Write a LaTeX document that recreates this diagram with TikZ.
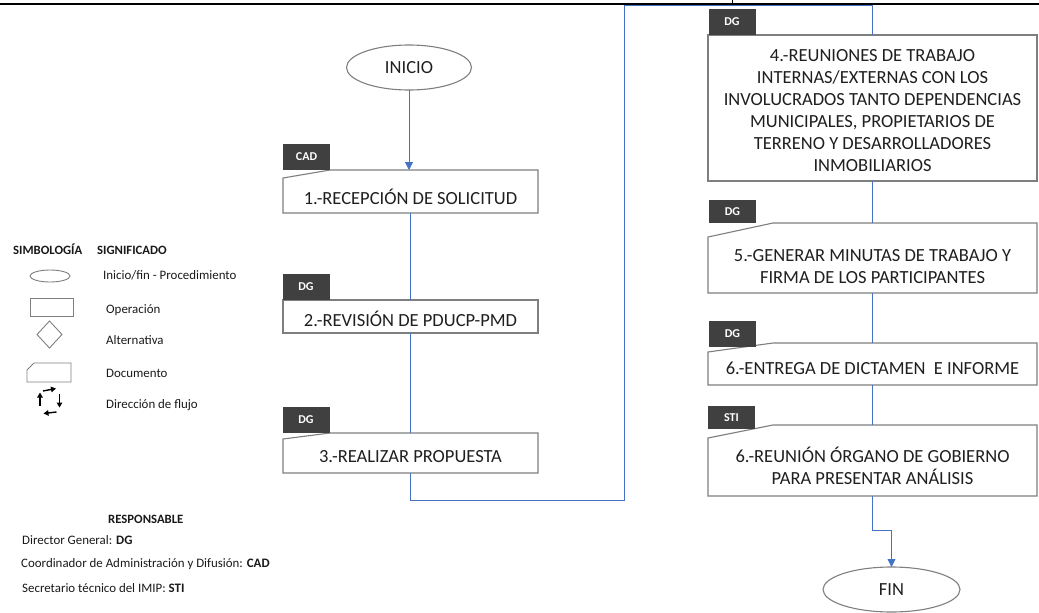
\documentclass[tikz,border=0pt]{standalone}
\usepackage{fontspec}
\setmainfont{Carlito}
\usetikzlibrary{shapes.geometric,arrows.meta}
\definecolor{flowblue}{HTML}{4472C4}
\definecolor{edgegray}{HTML}{7F7F7F}
\definecolor{tagdark}{HTML}{404040}
% outline of a "document" box: node name, drop and run of the cut top-left corner
\newcommand{\docoutline}[3]{%
  \draw[boxline] ([yshift=-#2]#1.north west) -- ([xshift=#3]#1.north west)
    -- (#1.north east) -- (#1.south east) -- (#1.south west) -- cycle;}
\begin{document}
\begin{tikzpicture}[x=1pt,y=-1pt,
  boxarea/.style={draw=none, inner sep=0pt, outer sep=0pt},
  boxline/.style={draw=edgegray, line width=1.1pt, fill=white},
  boxtext/.style={align=center, font=\fontsize{18.5}{22}\selectfont, text=black!88, inner sep=0pt},
  tagbox/.style={fill=tagdark, draw=none, text=white, font=\fontsize{12}{14}\selectfont\bfseries,
    inner sep=0pt, outer sep=0pt, minimum width=47},
  terminal/.style={ellipse, draw=edgegray, line width=1.1pt, fill=white, text=black!88,
    font=\fontsize{18.5}{22}\selectfont, inner sep=0pt, outer sep=0pt},
  flow/.style={draw=flowblue, line width=0.8pt},
  flowarrow/.style={flow, -{Triangle[width=8pt,length=8pt]}},
  legendtext/.style={anchor=base west, inner sep=0pt, text=black!90, font=\fontsize{12.9}{15}\selectfont},
  legendhead/.style={legendtext, font=\fontsize{12.7}{15}\selectfont\bfseries},
  legendshape/.style={draw=edgegray, line width=0.9pt, inner sep=0pt, outer sep=0pt},
  flowtip/.style={line width=1.4pt, -{Triangle[width=5.5pt,length=5pt]}},
]
\useasboundingbox (0,0) rectangle (1039,613);

% page header rule
\draw[line width=2pt] (0,3.6) -- (1039,3.6);
\draw[line width=0.9pt] (732,0) -- (732,3);

% process boxes
\node[boxarea, minimum width=255, minimum height=43] (b1) at (410.5,191.5) {};
\node[boxarea, minimum width=255, minimum height=33] (b2) at (410.5,316.5) {};
\node[boxarea, minimum width=255, minimum height=40] (b3) at (410.5,453) {};
\node[boxarea, minimum width=329, minimum height=146] (b4) at (872.5,108) {};
\node[boxarea, minimum width=329, minimum height=70] (b5) at (872.5,258) {};
\node[boxarea, minimum width=329, minimum height=42] (b6) at (872.5,364) {};
\node[boxarea, minimum width=329, minimum height=71] (b7) at (872.5,460.5) {};

\docoutline{b1}{8}{47}
\draw[boxline] (b2.north west) rectangle (b2.south east);
\docoutline{b3}{6}{47}
\draw[boxline] (b4.north west) rectangle (b4.south east);
\docoutline{b5}{14}{65}
\docoutline{b6}{9}{65}
\docoutline{b7}{13}{65}

% start and end
\node[terminal, minimum width=125, minimum height=45] (ini) at (409,67.5) {INICIO};
\node[terminal, minimum width=137, minimum height=45] (fin) at (891.5,589.5) {FIN};

% connectors
\coordinate (loopL) at (624,500);
\coordinate (loopT) at (624,5.5);
\coordinate (jog) at (872.5,530);
\draw[flowarrow] (ini.south) -- (ini.south |- b1.north);
\draw[flow] (b1.south) -- (b2.north);
\draw[flow] (b2.south) -- (b3.north);
\draw[flow] (b3.south) |- (loopL) -- (loopT) -| (b4.north);
\draw[flow] (b4.south) -- (b5.north);
\draw[flow] (b5.south) -- (b6.north);
\draw[flow] (b6.south) -- (b7.north);
\draw[flowarrow] (b7.south) -- (jog) -| (fin.north);

% box texts
\node[boxtext] (b1t) at ([yshift=-5]b1.center) {1.-RECEPCIÓN DE SOLICITUD};
\node[boxtext] (b2t) at ([yshift=-2.5]b2.center) {2.-REVISIÓN DE PDUCP-PMD};
\node[boxtext] (b3t) at ([yshift=-4]b3.center) {3.-REALIZAR PROPUESTA};
\node[boxtext] (b4t) at ([yshift=-2.5]b4.center) {4.-REUNIONES DE TRABAJO\\INTERNAS/EXTERNAS CON LOS\\INVOLUCRADOS TANTO DEPENDENCIAS\\MUNICIPALES, PROPIETARIOS DE\\TERRENO Y DESARROLLADORES\\INMOBILIARIOS};
\node[boxtext] (b5t) at ([yshift=-9]b5.center) {5.-GENERAR MINUTAS DE TRABAJO Y\\FIRMA DE LOS PARTICIPANTES};
\node[boxtext] (b6t) at ([yshift=-4]b6.center) {6.-ENTREGA DE DICTAMEN\ \ E INFORME};
\node[boxtext] (b7t) at ([yshift=-5]b7.center) {6.-REUNIÓN ÓRGANO DE GOBIERNO\\PARA PRESENTAR ANÁLISIS};

% responsible tags
\node[tagbox, minimum height=26] (t1) at (306.5,157) {CAD};
\node[tagbox, minimum height=26] (t2) at (306,287) {DG};
\node[tagbox, minimum height=26] (t3) at (306,420) {DG};
\node[tagbox, minimum height=26] (t4) at (732,22) {DG};
\node[tagbox, minimum height=23] (t5) at (732.5,211.5) {DG};
\node[tagbox, minimum height=26] (t6) at (732.5,334) {DG};
\node[tagbox, minimum height=23] (t7) at (731.5,417.5) {STI};

% legend
\node[legendhead] (lgh1) at (13,254) {SIMBOLOGÍA};
\node[legendhead] (lgh2) at (97,254) {SIGNIFICADO};
\node[legendshape, ellipse, minimum width=40, minimum height=12] (lg1) at (50,276) {};
\node[legendtext] (lg1t) at (103,279) {Inicio/fin - Procedimiento};
\node[legendshape, rectangle, minimum width=43, minimum height=18] (lg2) at (51.5,307) {};
\node[legendtext] (lg2t) at (106,313.5) {Operación};
\node[legendshape, diamond, minimum width=25, minimum height=27] (lg3) at (49.5,334.5) {};
\node[legendtext] (lg3t) at (106,344.5) {Alternativa};
\node[boxarea, minimum width=44, minimum height=19] (lg4) at (49,372.5) {};
\draw[legendshape] ([yshift=-7]lg4.north west) -- ([xshift=7]lg4.north west)
  -- (lg4.north east) -- (lg4.south east) -- (lg4.south west) -- cycle;
\node[legendtext] (lg4t) at (106,377) {Documento};
\draw[flowtip] (40,406) -- (40,392.5);
\draw[flowtip] (43,391) -- (56,388.5);
\draw[flowtip] (59.5,394) -- (59.5,407.5);
\draw[flowtip] (56.5,412) -- (43.5,413.5);
\node[legendtext] (lg5t) at (106,408) {Dirección de flujo};

% responsible parties
\node[legendhead] (rsh) at (108,523.5) {RESPONSABLE};
\node[legendtext] (rs1) at (22,544) {Director General: \textbf{DG}};
\node[legendtext] (rs2) at (21,567.5) {Coordinador de Administración y Difusión: \textbf{CAD}};
\node[legendtext] (rs3) at (22,592.5) {Secretario técnico del IMIP: \textbf{STI}};
\end{tikzpicture}
\end{document}
